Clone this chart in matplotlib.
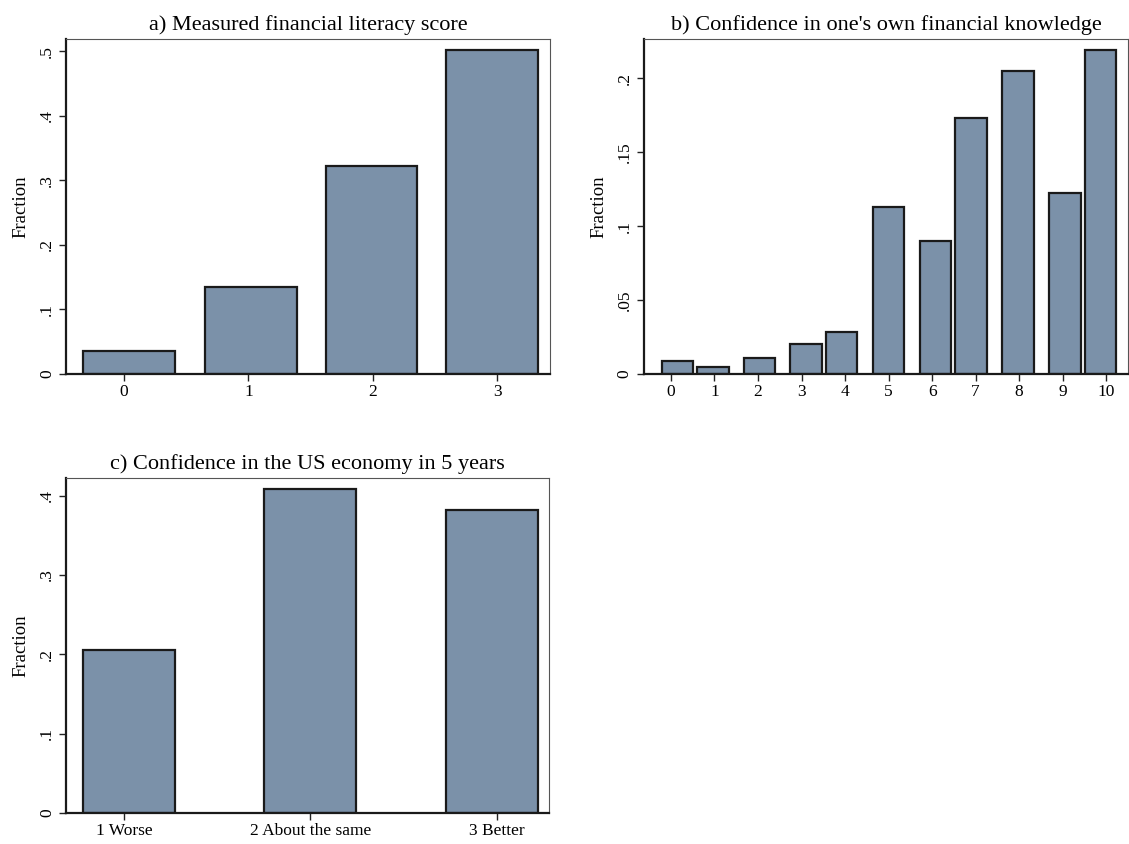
#!/usr/bin/env python3
"""
Three histogram panels: financial literacy, confidence, US economy outlook
"""
import matplotlib
matplotlib.use("Agg")
import matplotlib.pyplot as plt

# a) Measured financial literacy score
literacy_ticks = [0, 1, 2, 3]
literacy_labels = ["0", "1", "2", "3"]
literacy_bins = [0.04, 1.02, 1.99, 2.96]   # bin midpoints
literacy_frac = [0.036, 0.135, 0.322, 0.502]
literacy_yticks = [0, 0.1, 0.2, 0.3, 0.4, 0.5]
literacy_ylabels = ["0", ".1", ".2", ".3", ".4", ".5"]

# b) Confidence in one's own financial knowledge
knowledge_ticks = [0, 1, 2, 3, 4, 5, 6, 7, 8, 9, 10]
knowledge_labels = ["0", "1", "2", "3", "4", "5", "6", "7", "8", "9", "10"]
knowledge_bins = [0.15, 0.96, 2.035, 3.11, 3.92, 5.0, 6.08, 6.9, 7.98, 9.06, 9.87]
knowledge_frac = [0.0088, 0.0047, 0.0108, 0.0205, 0.0282, 0.113,
                  0.0902, 0.1727, 0.2045, 0.1222, 0.2187]
knowledge_yticks = [0, 0.05, 0.1, 0.15, 0.2]
knowledge_ylabels = ["0", ".05", ".1", ".15", ".2"]

# c) Confidence in the US economy in 5 years
economy_ticks = [1, 2, 3]
economy_labels = ["1 Worse", "2 About the same", "3 Better"]
economy_bins = [1.025, 2.0, 2.975]
economy_frac = [0.206, 0.408, 0.382]
economy_yticks = [0, 0.1, 0.2, 0.3, 0.4]
economy_ylabels = ["0", ".1", ".2", ".3", ".4"]

BAR_COLOR = "#7b91a9"
EDGE_COLOR = "#1a1a1a"

plt.rcParams["font.family"] = ["Liberation Serif", "DejaVu Serif"]


def draw_panel(ax, title, bins, frac, width, xticks, xlabels, yticks, ylabels, xlim, ylim):
    ax.bar(bins, frac, width=width, color=BAR_COLOR, edgecolor=EDGE_COLOR, linewidth=1.6)
    ax.set_xlim(*xlim)
    ax.set_ylim(*ylim)
    ax.set_xticks(xticks)
    ax.set_xticklabels(xlabels, fontsize=12.5)
    ax.set_yticks(yticks)
    ax.set_yticklabels(ylabels, fontsize=12.5, rotation=90, va="center")
    ax.tick_params(axis="both", direction="out", length=5, width=1.0, color="#222222")
    ax.tick_params(axis="x", pad=2)
    ax.tick_params(axis="y", pad=3)
    ax.set_ylabel("Fraction", fontsize=13.5, labelpad=7)
    ax.set_title(title, fontsize=16, pad=6.5)

    # Stata style frame: heavy axis lines, thin plot-region border
    for side in ["left", "bottom"]:
        ax.spines[side].set_linewidth(1.6)
        ax.spines[side].set_color("#1a1a1a")
    for side in ["top", "right"]:
        ax.spines[side].set_linewidth(0.8)
        ax.spines[side].set_color("#555555")


def main():
    fig = plt.figure(figsize=(11.29, 8.44), dpi=100)
    fig.patch.set_facecolor("white")

    ax_a = fig.add_axes([0.0585, 0.5569, 0.4287, 0.3969])
    ax_b = fig.add_axes([0.5704, 0.5569, 0.4287, 0.3969])
    ax_c = fig.add_axes([0.0585, 0.0367, 0.4278, 0.3969])

    draw_panel(ax_a, "a) Measured financial literacy score",
               literacy_bins, literacy_frac, 0.738,
               literacy_ticks, literacy_labels, literacy_yticks, literacy_ylabels,
               (-0.466, 3.425), (0, 0.519))

    draw_panel(ax_b, "b) Confidence in one's own financial knowledge",
               knowledge_bins, knowledge_frac, 0.73,
               knowledge_ticks, knowledge_labels, knowledge_yticks, knowledge_ylabels,
               (-0.62, 10.5), (0, 0.2264))

    draw_panel(ax_c, "c) Confidence in the US economy in 5 years",
               economy_bins, economy_frac, 0.494,
               economy_ticks, economy_labels, economy_yticks, economy_ylabels,
               (0.689, 3.281), (0, 0.4223))

    fig.savefig("out.png", dpi=100, facecolor="white")


if __name__ == "__main__":
    main()
